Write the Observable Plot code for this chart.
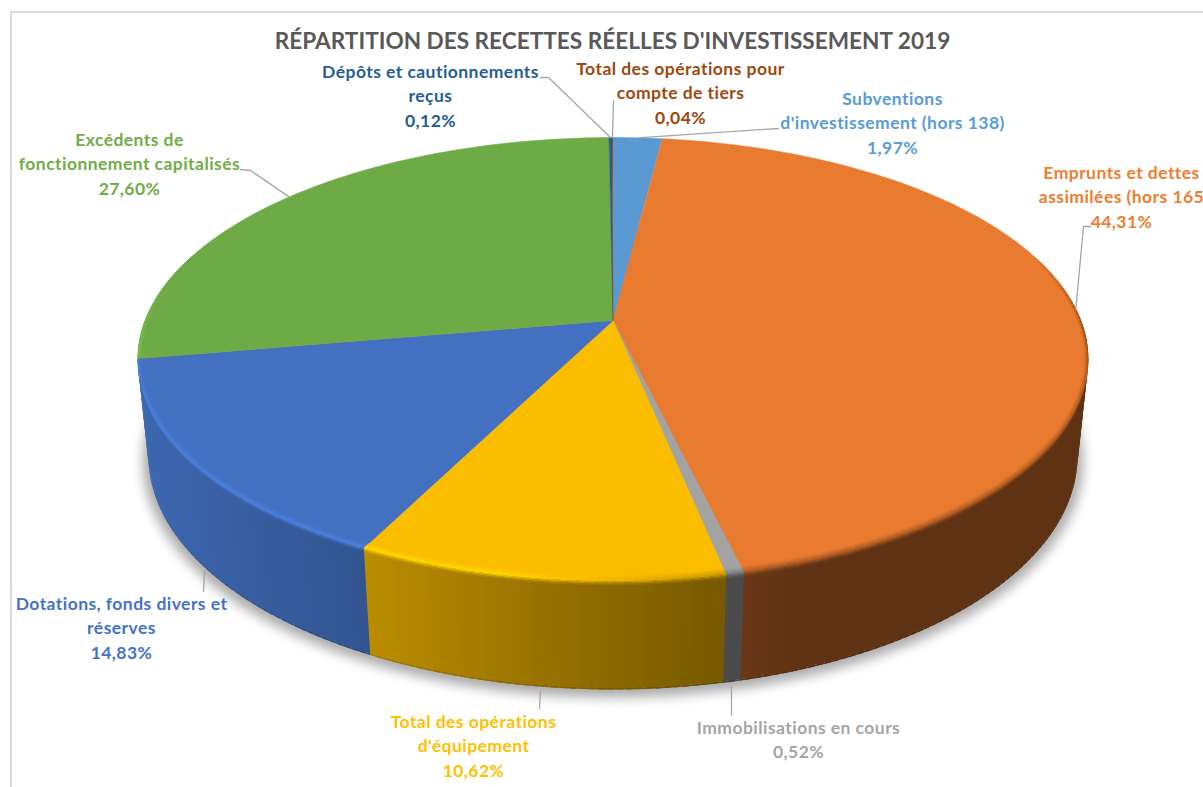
<!DOCTYPE html>
<html lang="fr">
<head>
<meta charset="utf-8">
<script src="https://cdn.jsdelivr.net/npm/d3@7"></script>
<script src="https://cdn.jsdelivr.net/npm/@observablehq/plot@0.6"></script>
<style>
  html, body { margin: 0; padding: 0; background: #fff; overflow: hidden; }
  #page { position: relative; width: 1203px; height: 787px; overflow: hidden; }
  #frame { position: absolute; left: 10px; top: 11px; width: 1300px; height: 900px;
           border-left: 2px solid #d9d9d9; border-top: 2px solid #d9d9d9; }
  #title { position: relative; height: 56px; box-sizing: border-box; padding: 26px 0 0 22px;
           text-align: center; font: bold 22.6px/30px Lato, sans-serif; color: #595959; white-space: nowrap; }
  svg { display: block; position: relative; }
</style>
</head>
<body>
<div id="page">
  <div id="frame"></div>
  <div id="title">RÉPARTITION DES RECETTES RÉELLES D'INVESTISSEMENT 2019</div>
</div>
<script>
// ---- values, clockwise from twelve o'clock
const categories = ["Subventions d'investissement (hors 138)", "Emprunts et dettes assimilées (hors 165",
  "Immobilisations en cours", "Total des opérations d'équipement", "Dotations, fonds divers et réserves",
  "Excédents de fonctionnement capitalisés", "Dépôts et cautionnements reçus", "Total des opérations pour compte de tiers"];
const values = [1.97, 44.31, 0.52, 10.62, 14.83, 27.60, 0.12, 0.04];
const colors = ["#5b9bd5", "#ed7d31", "#a5a5a5", "#ffc000", "#4472c4", "#70ad47", "#255e91", "#9e480e"];
const labelNames = ["Subventions\nd'investissement (hors 138)", "Emprunts et dettes\nassimilées (hors 165",
  "Immobilisations en cours", "Total des opérations\nd'équipement", "Dotations, fonds divers et\nréserves",
  "Excédents de\nfonctionnement capitalisés", "Dépôts et cautionnements\nreçus", "Total des opérations pour\ncompte de tiers"];

// ---- layout of labels and their leader lines (page pixels)
const labelX = [892, 1121, 798, 473, 121, 129, 430, 680];
const labelY = [121, 195, 738, 744, 626, 162, 94, 91];
const leaderH = [0, 0, 1.04, 1.04, 1.04, 0, 0, 0];
const leaderPoints = [
  [[778, 128]], [[1083, 226], [1090, 226]], [[731, 715]], [[539, 708]],
  [[203, 591]], [[250, 170], [240, 169]], [[548, 77], [540, 77]], [[613, 100]]
];

// ---- perspective view of the 3D pie: disc (r, angle) at depth h
const view = {cx: 612.5, cy: 320, k: 468, b: 214.8, a: 0.174, c: 0.0225, d: 98.3};
function project(r, theta, h) {
  const u = r * Math.sin(theta), v = -r * Math.cos(theta);
  const w = 1 - view.a * v + view.c * h;
  return {x: view.cx + view.k * u / w, y: view.cy + (view.b * v + view.d * h) / w, v};
}
const total = d3.sum(values);
const cum = d3.cumsum(values);
const slices = values.map((value, i) => ({
  i, value, color: colors[i],
  t0: (i ? cum[i - 1] : 0) / total * 2 * Math.PI,
  t1: cum[i] / total * 2 * Math.PI
}));
const shade = (color, f) => {
  const c = d3.rgb(color);
  return d3.rgb(c.r * f, c.g * f, c.b * f).formatHex();
};
const mix = (c1, c2, q) => d3.rgb(d3.interpolateRgb(c1, c2)(q)).formatHex();
const sideFactor = x => Math.max(0.40, Math.min(0.9, 0.9 - 0.00076 * (x - 145)));
const hiFactor = x => x < 500 ? 1.12 : Math.max(0.7, 1.12 - (x - 500) * 0.0016);
const STEP = Math.PI / 180, EXT = STEP * 0.35;
function cells(s) {
  const n = Math.max(1, Math.ceil((s.t1 - s.t0) / STEP));
  return d3.range(n).map(j => {
    const a = s.t0 + (s.t1 - s.t0) * j / n, b = s.t0 + (s.t1 - s.t0) * (j + 1) / n;
    const lo = s.t0 - STEP * 0.04, hi = s.t1 + STEP * 0.04;
    return {a: Math.max(lo, a - EXT), b: Math.min(hi, b + EXT), m: (a + b) / 2};
  });
}
const toRows = (polys) => polys.flatMap((p, id) => p.pts.map(q => ({id, x: q.x, y: q.y, color: p.color})));
const quad = (a, b, p, q) => [project(p[0], a, p[1]), project(p[0], b, p[1]), project(q[0], b, q[1]), project(q[0], a, q[1])];
const allCells = slices.flatMap(s => cells(s).map(c => ({...c, s, v: project(1, c.m, 0).v})))
  .filter(c => c.v > -0.3)
  .sort((p, q) => p.v - q.v);   // back to front

// outer side wall
const wall = allCells.flatMap(({a, b, m, s}) => {
  const f = sideFactor(project(1, m, 0).x);
  return [
    {pts: quad(a, b, [1, 0], [1, 0.985]), color: shade(s.color, f)},
    {pts: quad(a, b, [1, 0.985], [1, 1]), color: shade(s.color, f * 0.88)}
  ];
});
// top face
const topFace = slices.map(s => {
  const n = Math.max(2, Math.ceil((s.t1 - s.t0) / STEP));
  const arc = d3.range(n + 1).map(j => project(1, s.t0 + (s.t1 - s.t0) * j / n, 0));
  return {pts: [project(0, 0, 0), ...arc], color: shade(s.color, 0.985)};
});
// bevel between top face and wall: colour eases base → highlight → wall
const BANDS = 7;
const bevel = allCells.flatMap(({a, b, m, s, v}) => {
  const x = project(1, m, 0).x;
  const base = shade(s.color, 0.985);
  const strength = Math.max(0, Math.min(1, (v + 0.3) / 0.35));
  const hi = mix(base, shade(s.color, hiFactor(x)), strength);
  const side = sideFactor(x);
  const wallColor = mix(base, shade(s.color, side), strength);
  const dr = 0.0085 + 0.0095 * v * v;
  // position along the profile: -1 = inner end of the bevel on the top, 0 = edge, 1 = lower end on the wall
  const at = t => t <= 0 ? [1 + t * dr, 0] : [1, t * 0.04];
  const colorAt = t => t <= 0 ? mix(base, hi, 1 + t) : mix(hi, wallColor, t);
  return d3.range(BANDS).map(k => {
    const t0 = -1 + 2 * k / BANDS, t1 = -1 + 2 * (k + 1) / BANDS;
    return {pts: quad(a, b, at(t0), at(t1)), color: colorAt((t0 + t1) / 2)};
  });
});
const shadow = d3.range(0, 361, 3).map(t => project(1.012, t * Math.PI / 180, 1));

const leaders = slices.flatMap(s => {
  const mid = (s.t0 + s.t1) / 2;
  const start = project(1, mid, leaderH[s.i]);
  return [[start.x, start.y], ...leaderPoints[s.i]].map(([x, y]) => ({id: s.i, x, y}));
});
const labels = slices.map(s => ({
  text: labelNames[s.i] + "\n" + s.value.toFixed(2).replace(".", ",") + "%",
  x: labelX[s.i], y: labelY[s.i], color: colors[s.i], name: categories[s.i]
}));

const chart = Plot.plot({
  width: 1203, height: 731,
  margin: 0,
  x: {domain: [0, 1203], range: [0, 1203], axis: null},
  y: {domain: [56, 787], range: [0, 731], axis: null},
  color: {type: "identity"},
  style: {background: "transparent", overflow: "hidden", letterSpacing: "0.45px"},
  marks: [
    Plot.line(shadow, {x: "x", y: "y", fill: "#8f8f8f", stroke: "none", dy: 4, imageFilter: "blur(6px)", fillOpacity: 0.75}),
    Plot.line(toRows(wall), {x: "x", y: "y", z: "id", fill: "color", stroke: "none"}),
    Plot.line(toRows(topFace), {x: "x", y: "y", z: "id", fill: "color", stroke: "color", strokeWidth: 0.5}),
    Plot.line(toRows(bevel), {x: "x", y: "y", z: "id", fill: "color", stroke: "none"}),
    Plot.line(leaders, {x: "x", y: "y", z: "id", stroke: "#a6a6a6", strokeWidth: 1.3}),
    Plot.text(labels, {x: "x", y: "y", text: "text", fill: "color", textAnchor: "middle", lineAnchor: "middle",
      lineHeight: 1.39, fontFamily: "Lato, sans-serif", fontWeight: "bold", fontSize: 17.5})
  ]
});
document.getElementById("page").appendChild(chart);
</script>
</body>
</html>
